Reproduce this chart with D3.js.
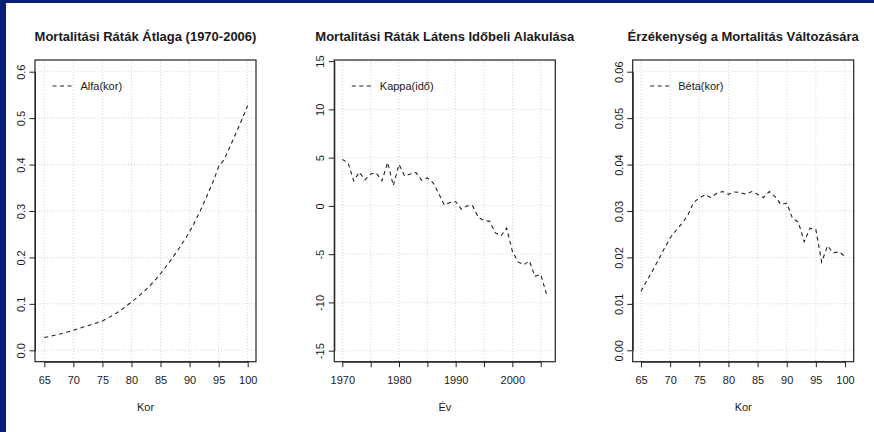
<!DOCTYPE html>
<html><head><meta charset="utf-8">
<script src="https://cdn.jsdelivr.net/npm/d3@7"></script>
<style>
html,body{margin:0;padding:0;background:#fff;}
svg{display:block;font-family:"Liberation Sans",Arial,Helvetica,sans-serif;}
</style></head><body>
<svg id="c" width="874" height="432"></svg>
<script>
// ---- data ----
const ages = [65,66,67,68,69,70,71,72,73,74,75,76,77,78,79,80,81,82,83,84,85,86,87,88,89,90,91,92,93,94,95,96,97,98,99,100];
const alfa = [0.0275,0.0300,0.0330,0.0360,0.0395,0.0430,0.0470,0.0510,0.0550,0.0590,0.0630,0.0700,0.0770,0.0850,0.0940,0.1040,0.1140,0.1250,0.1370,0.1500,0.1650,0.1810,0.1980,0.2160,0.2350,0.2550,0.2790,0.3050,0.3330,0.3620,0.3950,0.4120,0.4400,0.4680,0.4970,0.5270];
const years = [1970,1971,1972,1973,1974,1975,1976,1977,1978,1979,1980,1981,1982,1983,1984,1985,1986,1987,1988,1989,1990,1991,1992,1993,1994,1995,1996,1997,1998,1999,2000,2001,2002,2003,2004,2005,2006];
const kappa = [4.8,4.5,2.6,3.5,2.7,3.3,3.4,2.6,4.5,2.1,4.3,3.1,3.3,3.45,2.65,2.9,2.4,1.3,0.1,0.35,0.45,-0.35,0.0,0.0,-1.2,-1.5,-1.6,-2.8,-3.1,-2.3,-4.7,-5.8,-6.1,-5.7,-7.3,-7.1,-9.1];
const beta = [0.0127,0.0150,0.0172,0.0195,0.0219,0.0242,0.0258,0.0273,0.0290,0.0318,0.0328,0.0335,0.0329,0.0338,0.0342,0.0336,0.0341,0.0340,0.0336,0.0342,0.0336,0.0329,0.0342,0.0331,0.0314,0.0317,0.0284,0.0276,0.0234,0.0263,0.0260,0.0190,0.0225,0.0210,0.0212,0.0202];

const titles = ["Mortalitási Ráták Átlaga (1970-2006)", "Mortalitási Ráták Látens Időbeli Alakulása", "Érzékenység a Mortalitás Változására"];
const legendNames = ["Alfa(kor)", "Kappa(idő)", "Béta(kor)"];
const xTitles = ["Kor", "Év", "Kor"];
const ageTicks = [65,70,75,80,85,90,95,100];
const yearTicks = [1970,1975,1980,1985,1990,1995,2000,2005];
const yearTickLabels = ["1970","","1980","","1990","","2000",""];
const alfaTicks = [0.0,0.1,0.2,0.3,0.4,0.5,0.6];
const alfaTickLabels = ["0.0","0.1","0.2","0.3","0.4","0.5","0.6"];
const kappaTicks = [-15,-10,-5,0,5,10,15];
const kappaTickLabels = ["-15","-10","-5","0","5","10","15"];
const betaTicks = [0.00,0.01,0.02,0.03,0.04,0.05,0.06];
const betaTickLabels = ["0.00","0.01","0.02","0.03","0.04","0.05","0.06"];

// ---- layout ----
const svg = d3.select("#c");
svg.append("rect").attr("x",0).attr("y",0).attr("width",874).attr("height",432).attr("fill","#fff");
svg.append("rect").attr("x",0).attr("y",0).attr("width",6).attr("height",432).attr("fill","#0b2073");
svg.append("rect").attr("x",0).attr("y",0).attr("width",874).attr("height",3).attr("fill","#0b2073");

const boxTop = 60, boxBottom = 361.7, boxW = 221;
const panels = [
  {left:35, xs:ages, ys:alfa, xDom:[65,100], xRange:[44.3,247.7], yDom:[0,0.6], yRange:[350.3,71.7],
   xTicks:ageTicks, xLabels:ageTicks.map(String), yTicks:alfaTicks, yLabels:alfaTickLabels},
  {left:334.3, xs:years, ys:kappa, xDom:[1970,2005], xRange:[342.3,540.7], yDom:[-15,15], yRange:[350.7,61.1],
   xTicks:yearTicks, xLabels:yearTickLabels, yTicks:kappaTicks, yLabels:kappaTickLabels},
  {left:632.7, xs:ages, ys:beta, xDom:[65,100], xRange:[641,845], yDom:[0,0.06], yRange:[350.3,71.7],
   xTicks:ageTicks, xLabels:ageTicks.map(String), yTicks:betaTicks, yLabels:betaTickLabels}
];

const txt = "#1a1a1a";
panels.forEach((p,i)=>{
  const x = d3.scaleLinear().domain(p.xDom).range(p.xRange);
  const y = d3.scaleLinear().domain(p.yDom).range(p.yRange);
  const g = svg.append("g");
  const L = p.left, R = p.left + boxW;

  // grid
  g.append("g").selectAll("line").data(p.xTicks).join("line")
    .attr("x1",d=>x(d)).attr("x2",d=>x(d)).attr("y1",boxTop).attr("y2",boxBottom)
    .attr("stroke","#d3d3d3").attr("stroke-dasharray","1,2").attr("stroke-width",1);
  g.append("g").selectAll("line").data(p.yTicks).join("line")
    .attr("x1",L).attr("x2",R).attr("y1",d=>y(d)).attr("y2",d=>y(d))
    .attr("stroke","#d3d3d3").attr("stroke-dasharray","1,2").attr("stroke-width",1);

  // data line
  const line = d3.line().x((d,j)=>x(p.xs[j])).y(d=>y(d));
  g.append("path").datum(p.ys).attr("d",line).attr("fill","none")
    .attr("stroke","#222").attr("stroke-width",1.1).attr("stroke-dasharray","4,3.5");

  // box
  g.append("rect").attr("x",L).attr("y",boxTop).attr("width",boxW).attr("height",boxBottom-boxTop)
    .attr("fill","none").attr("stroke","#222").attr("stroke-width",1.2);

  // x axis
  const xa = g.append("g").attr("transform",`translate(0,${boxBottom})`)
    .call(d3.axisBottom(x).tickValues(p.xTicks).tickFormat((d,j)=>p.xLabels[j]).tickSize(5.5).tickSizeOuter(0).tickPadding(9));
  xa.select(".domain").attr("stroke","#222");
  xa.selectAll(".tick line").attr("stroke","#222");
  xa.selectAll("text").attr("font-size",11).attr("fill",txt).attr("font-family","Liberation Sans, Arial, sans-serif");

  // y axis
  const ya = g.append("g").attr("transform",`translate(${L},0)`)
    .call(d3.axisLeft(y).tickValues(p.yTicks).tickFormat((d,j)=>p.yLabels[j]).tickSize(5.5).tickSizeOuter(0));
  ya.select(".domain").attr("stroke","#222");
  ya.selectAll(".tick line").attr("stroke","#222");
  ya.selectAll("text").attr("font-size",11).attr("fill",txt).attr("font-family","Liberation Sans, Arial, sans-serif")
    .attr("transform","rotate(-90)").attr("x",0).attr("y",-14).attr("dy","0.35em").attr("text-anchor","middle");

  // title
  g.append("text").attr("x",(L+R)/2).attr("y",41).attr("text-anchor","middle")
    .attr("font-weight","bold").attr("font-size",13).attr("fill",txt).text(titles[i]);
  // x title
  g.append("text").attr("x",(L+R)/2).attr("y",411).attr("text-anchor","middle")
    .attr("font-size",11).attr("fill",txt).text(xTitles[i]);

  // legend
  g.append("line").attr("x1",L+17.5).attr("x2",L+37).attr("y1",86).attr("y2",86)
    .attr("stroke","#222").attr("stroke-width",1.1).attr("stroke-dasharray","4,3.5");
  g.append("text").attr("x",L+45.5).attr("y",90).attr("font-size",11).attr("fill",txt).text(legendNames[i]);
});
</script>
</body></html>
